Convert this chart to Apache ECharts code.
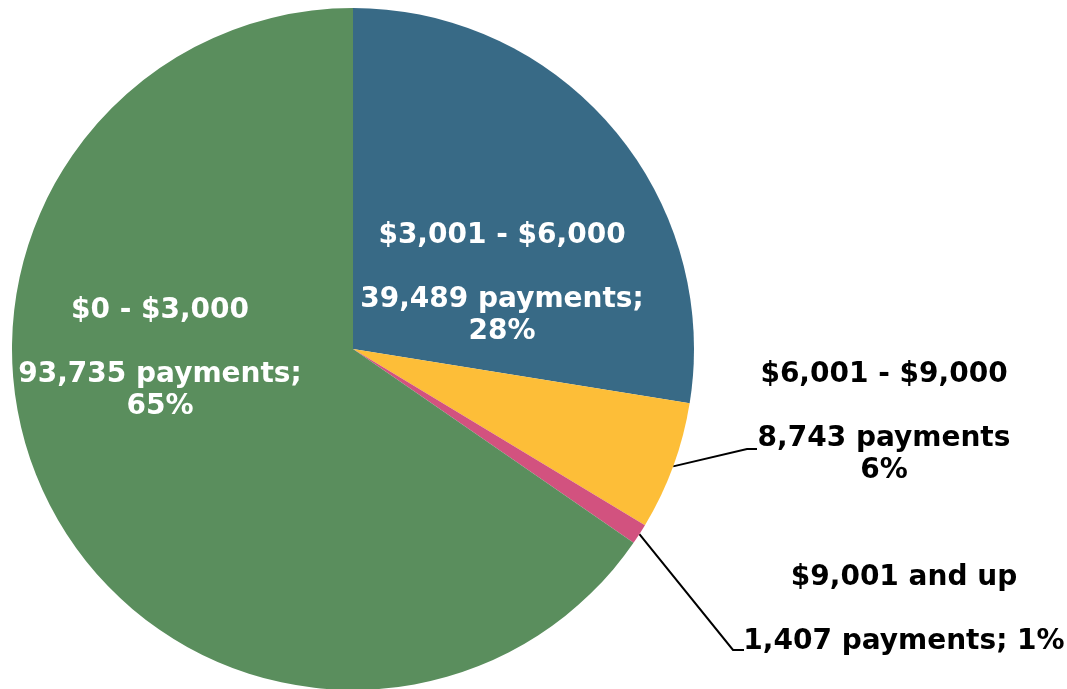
<!DOCTYPE html>
<html>
<head>
<meta charset="utf-8">
<script src="https://cdn.jsdelivr.net/npm/echarts@6/dist/echarts.min.js"></script>
<style>
  html, body { margin: 0; padding: 0; background: #fff; }
  #main { width: 1067px; height: 689px; }
</style>
</head>
<body>
<div id="main"></div>
<script>
var categories = ['$3,001 - $6,000', '$6,001 - $9,000', '$9,001 and up', '$0 - $3,000'];
var payments = [39489, 8743, 1407, 93735];
var colors = ['#386A86', '#FDBE38', '#D2527F', '#5A8E5D'];
// what goes between "payments" and the percent, per slice
var seps = [';\n', '\n', '; ', ';\n'];

var dom = document.getElementById('main');
var myChart = echarts.init(dom);

// where each label block sits (centre of the text block)
var labelSpots = [
    { x: 502, y: 284 },
    { x: 884, y: 423, line: [[747, 449], [757, 449]] },
    { x: 904, y: 610, line: [[733, 650], [744, 650]] },
    { x: 160, y: 359 }
];

var option = {
    animation: false,
    series: [
        {
            type: 'pie',
            center: [353, 349],
            radius: 341,
            startAngle: 90,
            clockwise: true,
            label: {
                fontFamily: 'DejaVu Sans',
                fontWeight: 'bold',
                fontSize: 28,
                lineHeight: 32,
                align: 'center',
                formatter: function (p) {
                    return p.name + '\n\n' + p.value.toLocaleString('en-US') +
                        ' payments' + seps[p.dataIndex] + Math.round(p.percent) + '%';
                }
            },
            labelLine: {
                lineStyle: { color: '#000', width: 2 }
            },
            labelLayout: function (params) {
                var s = labelSpots[params.dataIndex];
                var out = { x: s.x, y: s.y, align: 'center', verticalAlign: 'middle' };
                if (s.line && params.labelLinePoints) {
                    out.labelLinePoints = [params.labelLinePoints[0], s.line[0], s.line[1]];
                }
                return out;
            },
            data: categories.map(function (c, i) {
                var inside = (i === 0 || i === 3);
                return {
                    name: c,
                    value: payments[i],
                    itemStyle: { color: colors[i] },
                    label: {
                        position: inside ? 'inside' : 'outside',
                        color: inside ? '#ffffff' : '#000000'
                    },
                    labelLine: { show: !inside }
                };
            })
        }
    ]
};

if (option && typeof option === "object") {
    myChart.setOption(option, true);
}
</script>
</body>
</html>
